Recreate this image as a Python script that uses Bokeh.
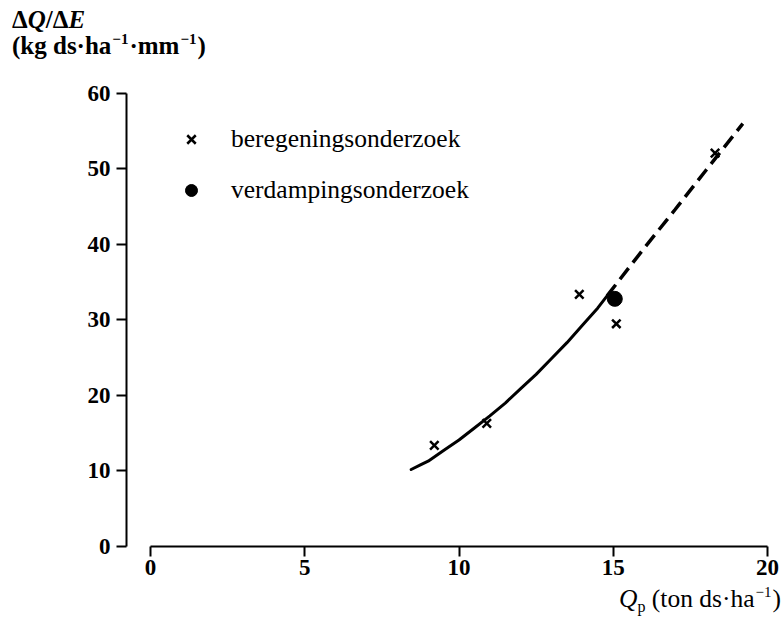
from bokeh.plotting import figure
from bokeh.models import Range1d, FixedTicker, Legend, LegendItem, Div
from bokeh.layouts import column
from bokeh.embed import file_html
from bokeh.resources import INLINE

# ---- data ----
sprinkling_x = [9.2, 10.9, 13.9, 15.1, 18.3]     # beregeningsonderzoek (crosses)
sprinkling_y = [13.4, 16.3, 33.4, 29.5, 52.1]
evap_x = [15.05]                                   # verdampingsonderzoek (dot)
evap_y = [32.8]
fit_x = [8.45, 8.75, 9.0, 9.5, 10.0, 10.5, 11.0, 11.5, 12.0, 12.5, 13.0, 13.5, 14.0, 14.5, 14.8]
fit_y = [10.2, 10.8, 11.3, 12.7, 14.1, 15.7, 17.3, 19.0, 20.9, 22.8, 24.9, 27.0, 29.3, 31.6, 33.2]
ext_x = [14.8, 16.0, 17.0, 18.0, 19.2]
ext_y = [33.2, 39.5, 44.6, 49.8, 56.0]
x_ticks = [0, 5, 10, 15, 20]
y_ticks = [0, 10, 20, 30, 40, 50, 60]

SERIF = "Liberation Serif"
W = 783
TOP_H = 62          # div holding the y-axis title
FIG_H = 528
BOT_H = 29          # div holding the x-axis title
BL, BR, BT, BB = 126, 16, 0, 44

p = figure(width=W, height=FIG_H, output_backend="svg", toolbar_location=None,
           x_range=Range1d(-0.778, 20), y_range=Range1d(0, 64.1),
           min_border_left=BL, min_border_right=BR, min_border_top=BT, min_border_bottom=BB)
p.grid.visible = False
p.outline_line_color = None
p.background_fill_color = "white"
p.border_fill_color = "white"

for ax in (p.xaxis[0], p.yaxis[0]):
    ax.axis_line_width = 2
    ax.axis_line_color = "black"
    ax.major_tick_line_width = 2
    ax.major_tick_line_color = "black"
    ax.major_tick_out = 10
    ax.major_tick_in = 0
    ax.minor_tick_line_color = None
    ax.major_label_text_font = SERIF
    ax.major_label_text_font_size = "23px"
    ax.major_label_text_font_style = "bold"
    ax.major_label_text_color = "black"
p.xaxis.ticker = FixedTicker(ticks=x_ticks)
p.xaxis.bounds = (0, 20)
p.yaxis.ticker = FixedTicker(ticks=y_ticks)
p.yaxis.bounds = (0, 60)
p.xaxis.major_label_standoff = 3
p.yaxis.major_label_standoff = 6

p.line(fit_x, fit_y, line_width=3, color="black", line_cap="round", line_join="round")
p.line(ext_x, ext_y, line_width=3.5, color="black", line_dash="14 7")
r1 = p.scatter(sprinkling_x, sprinkling_y, marker="x", size=12, line_width=2.5, color="black")
r2 = p.scatter(evap_x, evap_y, marker="circle", size=15, color="black")

legend = Legend(items=[LegendItem(label="beregeningsonderzoek", renderers=[r1]),
                       LegendItem(label="verdampingsonderzoek", renderers=[r2])],
                location=(50, 341), label_text_font=SERIF, label_text_font_size="25.5px",
                label_text_color="black",
                glyph_width=30, glyph_height=30, label_height=30, label_standoff=25,
                spacing=21, padding=10, margin=0,
                border_line_color=None, background_fill_alpha=0)
p.add_layout(legend)

SUP = "font-size:15px;position:relative;top:-10px;padding:0 1px;"
top_html = (
    '<div style="font-family:\'Liberation Serif\',serif;font-weight:bold;font-size:25px;'
    'line-height:26px;padding:7px 0 0 12px;margin:0;color:#000;white-space:nowrap;">'
    'Δ<i>Q</i>/Δ<i>E</i><br>'
    '(kg ds·ha<span style="' + SUP + '">−1</span>·mm<span style="' + SUP + '">−1</span>)'
    '</div>'
)
bot_html = (
    '<div style="display:block;box-sizing:border-box;width:781px;'
    'font-family:\'Liberation Serif\',serif;font-size:25.5px;line-height:18px;'
    'padding:0;margin:0;color:#000;text-align:right;white-space:nowrap;">'
    '<i>Q</i><span style="font-size:16px;position:relative;top:5px;">p</span> '
    '(ton ds·ha<span style="' + SUP + '">−1</span>)'
    '</div>'
)
div_top = Div(text=top_html, width=W, height=TOP_H, margin=0)
div_bot = Div(text=bot_html, width=W, height=BOT_H, margin=0)

layout = column(div_top, p, div_bot, spacing=0, margin=0)
open("out.html", "w").write(file_html(layout, INLINE))
